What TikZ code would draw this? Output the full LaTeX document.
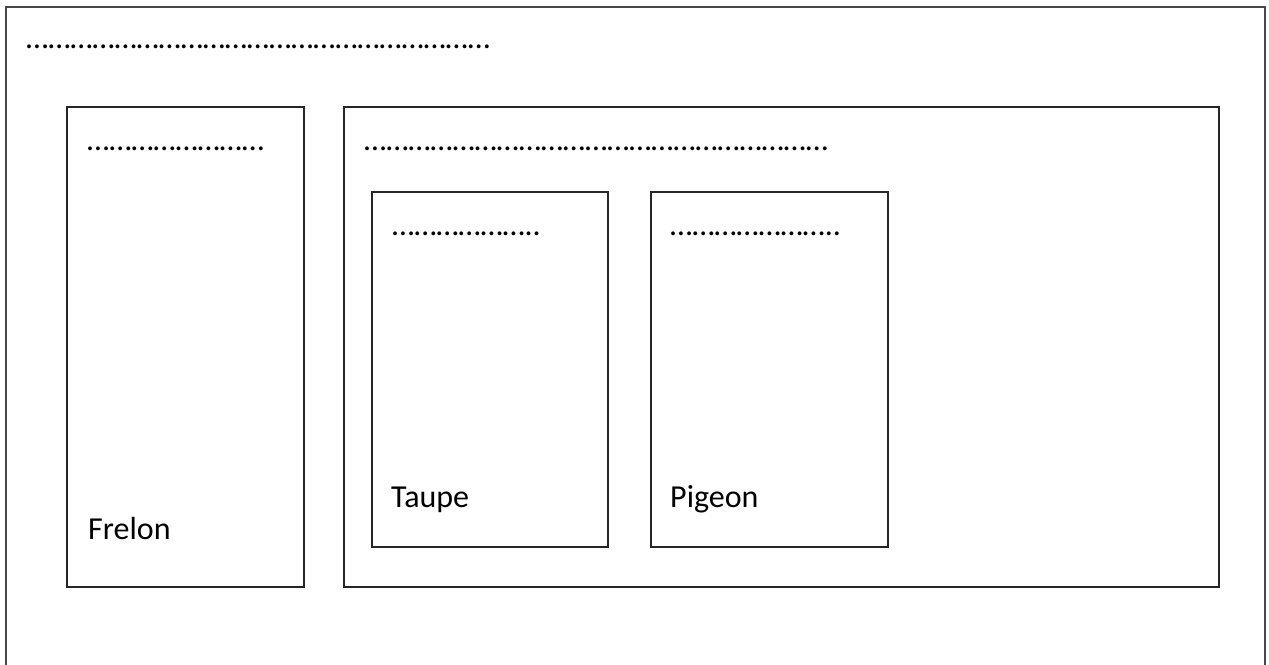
\documentclass[tikz,border=0pt]{standalone}
\usepackage{fontspec}
\setmainfont{Carlito}
\newcommand{\dotrun}[1]{\foreach \i in {1,...,#1}{…}}
\begin{document}
\begin{tikzpicture}[x=1pt,y=-1pt,
  frame/.style={draw=black!72,line width=1.6pt},
  box/.style={draw=black!85,line width=1.1pt},
  lab/.style={anchor=base west,inner sep=0pt,font=\fontsize{32}{38}\selectfont}]
\useasboundingbox (0,0) rectangle (1269,664);
\fill[white] (0,0) rectangle (1269,664);
% outer frame (bottom edge beyond the picture)
\draw[frame] (6,680) -- (6,7) -- (1265,7) -- (1265,680);
\draw[box] (67,107) rectangle (304,587);
\draw[box] (344,107) rectangle (1219,587);
\draw[box] (372,192) rectangle (608,547);
\draw[box] (651,192) rectangle (888,547);
\node[lab] (t0) at (26,48) {\dotrun{21}};
\node[lab] (t1) at (87,150) {\dotrun{8}};
\node[lab] (t2) at (364,150) {\dotrun{21}};
\node[lab] (t3) at (392,235) {\dotrun{6}..};
\node[lab] (t4) at (670,235) {\dotrun{7}..};
\node[lab] (frelon) at (88,539) {Frelon};
\node[lab] (taupe) at (391,507) {Taupe};
\node[lab] (pigeon) at (670,507) {Pigeon};
\end{tikzpicture}
\end{document}
